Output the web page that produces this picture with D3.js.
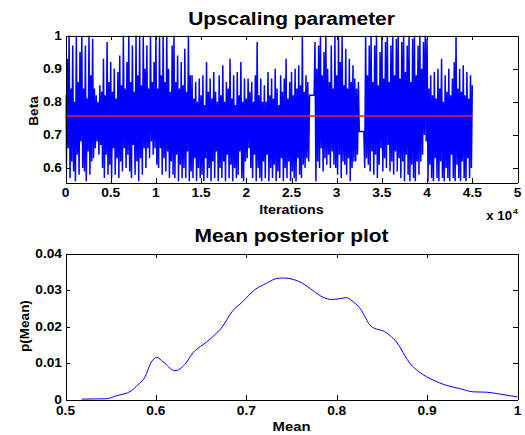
<!DOCTYPE html>
<html><head><meta charset="utf-8">
<script src="https://cdn.jsdelivr.net/npm/d3@7"></script>
<style>body{margin:0;background:#fff}svg{display:block}</style>
</head><body>
<svg id="c" width="525" height="435"></svg>
<script>
// ---- data: trace of Beta (one read value every betaStep iterations) ----
const betaStep = 100;
const betaTrace = [
0.82,0.60,0.93,0.66,1.00,0.57,0.84,0.62,0.97,0.59,
0.80,0.56,1.00,0.64,0.86,0.58,0.95,0.68,1.00,0.60,
0.84,0.59,0.97,0.56,0.81,0.65,1.00,0.58,0.88,0.62,
0.99,0.63,0.84,0.66,0.82,0.68,0.80,0.64,0.85,0.67,
0.83,0.60,0.93,0.57,0.82,0.64,0.98,0.58,0.86,0.61,
0.92,0.57,0.83,0.66,0.90,0.58,0.81,0.63,0.89,0.57,
0.94,0.62,0.85,0.59,1.00,0.66,0.84,0.60,0.92,0.64,
1.00,0.59,0.86,0.57,0.97,0.67,0.83,0.58,1.00,0.62,
0.88,0.56,1.00,0.63,0.85,0.58,1.00,0.66,0.90,0.60,
0.97,0.66,0.84,0.63,1.00,0.68,0.86,0.64,0.92,0.66,
1.00,0.61,0.84,0.60,1.00,0.66,0.88,0.58,1.00,0.63,
0.86,0.59,1.00,0.65,0.90,0.57,0.83,0.62,0.97,0.58,
1.00,0.57,0.86,0.64,0.94,0.56,0.84,0.61,0.92,0.57,
0.85,0.60,0.96,0.57,0.83,0.65,1.00,0.56,0.88,0.59,
0.88,0.57,0.81,0.63,0.86,0.56,0.80,0.60,0.87,0.57,
0.82,0.58,0.88,0.56,0.79,0.63,0.92,0.57,0.83,0.60,
0.87,0.56,0.81,0.62,0.89,0.57,0.83,0.65,0.80,0.56,
0.88,0.60,0.82,0.57,0.91,0.62,0.80,0.56,0.86,0.64,
0.84,0.57,0.93,0.61,0.81,0.56,0.88,0.60,0.79,0.57,
0.89,0.58,0.82,0.65,0.92,0.57,0.80,0.56,0.87,0.62,
0.81,0.63,0.87,0.66,0.83,0.60,0.86,0.57,0.80,0.64,
0.88,0.56,0.98,0.60,0.82,0.57,0.87,0.56,0.80,0.62,
0.85,0.57,0.80,0.64,0.89,0.56,0.82,0.60,0.87,0.57,
0.81,0.61,0.90,0.56,0.84,0.59,0.79,0.57,0.88,0.63,
0.83,0.56,0.87,0.60,0.93,0.57,0.81,0.62,0.86,0.56,
0.89,0.59,0.82,0.57,0.90,0.56,0.84,0.63,0.91,0.58,
0.85,0.57,1.00,0.61,0.83,0.60,0.88,0.63,0.86,0.62,
0.82,0.82,0.82,0.82,0.82,0.82,0.98,0.56,0.90,0.62,
0.97,0.60,1.00,0.66,0.88,0.59,0.95,0.63,1.00,0.61,
0.90,0.64,0.86,0.60,0.97,0.65,0.84,0.61,1.00,0.60,
0.88,0.58,1.00,0.64,0.92,0.57,1.00,0.62,0.85,0.61,
0.96,0.58,0.84,0.63,0.93,0.56,0.86,0.60,0.91,0.62,
0.87,0.62,0.84,0.64,0.86,0.71,0.71,0.71,0.71,0.71,
0.71,0.60,1.00,0.63,0.88,0.61,0.97,0.59,1.00,0.65,
0.86,0.58,0.97,0.64,1.00,0.57,0.85,0.61,0.95,0.66,
1.00,0.59,0.87,0.63,0.98,0.60,1.00,0.67,0.86,0.59,
0.97,0.62,1.00,0.58,0.88,0.65,0.99,0.59,1.00,0.63,
0.87,0.57,0.98,0.62,1.00,0.56,0.89,0.64,0.97,0.58,
1.00,0.56,0.86,0.61,0.99,0.57,1.00,0.56,0.88,0.62,
0.97,0.58,1.00,0.62,0.90,0.64,0.98,0.70,1.00,0.68,
0.99,0.56,0.84,0.61,0.88,0.57,0.82,0.56,0.89,0.63,
0.81,0.57,0.90,0.56,0.84,0.62,0.93,0.57,0.80,0.56,
0.88,0.60,0.83,0.57,0.90,0.56,0.82,0.64,0.87,0.57,
0.92,0.56,1.00,0.61,0.84,0.57,0.90,0.56,0.83,0.62,
0.91,0.57,0.82,0.56,0.89,0.63,0.81,0.57,0.88,0.60,
0.85
];
const betaMean = 0.757;
const traceXTicks = [0,5000,10000,15000,20000,25000,30000,35000,40000,45000,50000];
const traceXTickLabels = ["0","0.5","1","1.5","2","2.5","3","3.5","4","4.5","5"];
const traceYTicks = [0.6,0.7,0.8,0.9,1];
const traceYTickLabels = ["0.6","0.7","0.8","0.9","1"];

// ---- data: posterior density of the mean ----
const densityX = [0.518,0.545,0.556,0.573,0.580,0.588,0.595,0.601,0.608,0.621,0.632,0.641,0.652,0.663,0.674,0.684,0.696,0.709,0.722,0.733,0.741,0.752,0.761,0.774,0.785,0.794,0.803,0.811,0.816,0.826,0.838,0.855,0.866,0.881,0.892,0.907,0.921,0.936,0.951,0.966,0.980,1.0];
const densityY = [0.0001,0.0002,0.001,0.0024,0.004,0.0062,0.0103,0.0115,0.0103,0.0079,0.0096,0.0128,0.015,0.0172,0.0201,0.024,0.0268,0.030,0.0318,0.0331,0.0333,0.0329,0.032,0.0298,0.028,0.0274,0.0276,0.0279,0.0272,0.0249,0.0201,0.0183,0.0158,0.0099,0.0074,0.0053,0.0039,0.003,0.0021,0.002,0.0015,0.0007];
const densXTicks = [0.5,0.6,0.7,0.8,0.9,1];
const densXTickLabels = ["0.5","0.6","0.7","0.8","0.9","1"];
const densYTicks = [0,0.01,0.02,0.03,0.04];
const densYTickLabels = ["0","0.01","0.02","0.03","0.04"];

// ---- drawing ----
const svg = d3.select("#c");
const FONT = "'Liberation Sans', Arial, Helvetica, sans-serif";
const SX = 1.1;
function label(x, y, text, size, anchor, rot) {
  const g = svg.append("g").attr("transform",
    `translate(${x},${y})` + (rot ? ` rotate(${rot})` : ` scale(${SX},1)`));
  return g.append("text").text(text)
    .attr("font-family", FONT).attr("font-weight", "bold")
    .attr("font-size", size).attr("text-anchor", anchor).attr("fill", "#000");
}

function axesBox(x, y, xt, xl, yt, yl, xLabY) {
  const [x0, x1] = x.range(), [y0, y1] = y.range(); // y0 bottom, y1 top
  const T = 4.5;
  const g = svg.append("g").attr("shape-rendering", "crispEdges");
  g.append("g").attr("transform", `translate(0,${y0})`)
    .call(d3.axisBottom(x).tickValues(xt).tickSizeInner(-T).tickSizeOuter(0).tickFormat(""));
  g.append("g").attr("transform", `translate(0,${y1})`)
    .call(d3.axisTop(x).tickValues(xt).tickSizeInner(-T).tickSizeOuter(0).tickFormat(""));
  g.append("g").attr("transform", `translate(${x0},0)`)
    .call(d3.axisLeft(y).tickValues(yt).tickSizeInner(-T).tickSizeOuter(0).tickFormat(""));
  g.append("g").attr("transform", `translate(${x1},0)`)
    .call(d3.axisRight(y).tickValues(yt).tickSizeInner(-T).tickSizeOuter(0).tickFormat(""));
  g.selectAll(".domain").attr("stroke", "#000").attr("stroke-width", 1);
  g.selectAll(".tick line").attr("stroke", "#000");
  xt.forEach((v, i) => label(x(v), xLabY, xl[i], 12.5, "middle"));
  yt.forEach((v, i) => label(x0 - 3.5, y(v) + 4.2, yl[i], 12.5, "end"));
}

// top panel
const L = 65.5, R = 517.5;
const xT = d3.scaleLinear().domain([0, 50000]).range([L, R]);
const yT = d3.scaleLinear().domain([0.5565, 1]).range([182.5, 35.5]);
svg.append("clipPath").attr("id", "clipT").append("rect")
  .attr("x", L).attr("y", 35.5).attr("width", R - L).attr("height", 147);
const gT = svg.append("g").attr("clip-path", "url(#clipT)");
gT.append("path").datum(betaTrace)
  .attr("d", d3.line().x((d, i) => xT(i * betaStep)).y(d => yT(d)))
  .attr("fill", "none").attr("stroke", "#0000ff").attr("stroke-width", 1.5)
  .attr("stroke-linejoin", "miter").attr("stroke-miterlimit", 1.5);
gT.append("line")
  .attr("x1", xT(0)).attr("x2", xT((betaTrace.length - 1) * betaStep))
  .attr("y1", yT(betaMean)).attr("y2", yT(betaMean))
  .attr("stroke", "#d8204a").attr("stroke-width", 1.6);
axesBox(xT, yT, traceXTicks, traceXTickLabels, traceYTicks, traceYTickLabels, 197);
label(291.5, 25, "Upscaling parameter", 19, "middle");
label(291.5, 214, "Iterations", 13, "middle");
label(38, 111, "Beta", 13.5, "middle", -90);
label(512, 220, "x 10", 12, "end");
label(513, 214, "4", 8, "start");

// bottom panel
const xB = d3.scaleLinear().domain([0.5, 1]).range([L, R]);
const yB = d3.scaleLinear().domain([0, 0.04]).range([399.5, 253.5]);
svg.append("path").datum(densityX.map((v, i) => [v, densityY[i]]))
  .attr("d", d3.line().x(d => xB(d[0])).y(d => yB(d[1])).curve(d3.curveMonotoneX))
  .attr("fill", "none").attr("stroke", "#0000ff").attr("stroke-width", 1);
axesBox(xB, yB, densXTicks, densXTickLabels, densYTicks, densYTickLabels, 414.5);
label(291.5, 241.5, "Mean posterior plot", 19, "middle");
label(291.5, 430.5, "Mean", 13.5, "middle");
label(29, 326, "p(Mean)", 13.5, "middle", -90);
</script>
</body></html>
